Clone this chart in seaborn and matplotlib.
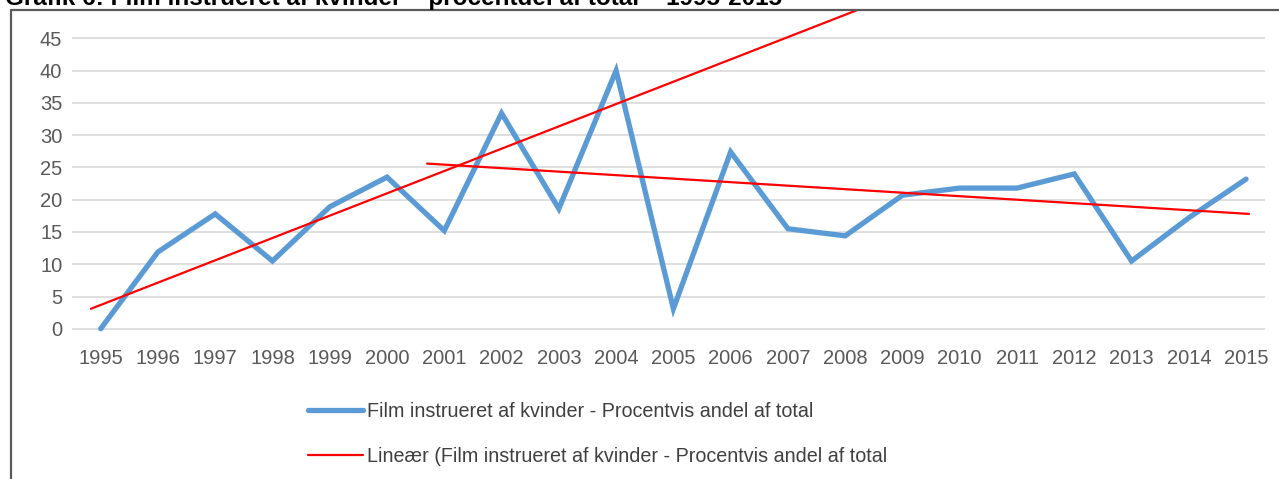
import matplotlib
matplotlib.use('Agg')
import matplotlib.pyplot as plt
from matplotlib.lines import Line2D
import seaborn as sns
import pandas as pd

# Film instrueret af kvinder, procent af total, 1995-2015
years = list(range(1995, 2016))
pct_women = [0.0, 11.9, 17.8, 10.5, 18.9, 23.5, 15.2, 33.4, 18.6, 40.0, 3.1,
             27.4, 15.5, 14.4, 20.7, 21.8, 21.8, 24.0, 10.5, 17.2, 23.2]

# the two red trend lines as drawn in the picture (start / end)
trend_a_years = [1994.83, 2008.3]
trend_a_vals = [3.1, 49.7]
trend_b_years = [2000.7, 2015.05]
trend_b_vals = [25.6, 17.8]

y_ticks = [0, 5, 10, 15, 20, 25, 30, 35, 40, 45]

title = "Grafik 6: Film instrueret af kvinder \u2013 procentdel af total \u2013 1995-2015"
label_data = "Film instrueret af kvinder - Procentvis andel af total"
label_trend = "Line\u00e6r (Film instrueret af kvinder - Procentvis andel af total"

df = pd.DataFrame({'year': years, 'pct': pct_women})
df_a = pd.DataFrame({'year': trend_a_years, 'pct': trend_a_vals})
df_b = pd.DataFrame({'year': trend_b_years, 'pct': trend_b_vals})

sns.set_style('white')
plt.rcParams['font.family'] = ['Liberation Sans', 'DejaVu Sans']

fig = plt.figure(figsize=(12.79, 4.79), dpi=100)
ax = fig.add_axes([72 / 1279, 1 - 332 / 479, (1265 - 72) / 1279, (332 - 10) / 479])

sns.lineplot(data=df, x='year', y='pct', ax=ax, color='#5B9BD5', linewidth=3.8,
             label=label_data, solid_joinstyle='miter', zorder=3)
sns.lineplot(data=df_a, x='year', y='pct', ax=ax, color='#FF0000', linewidth=1.6,
             label=label_trend, zorder=4)
sns.lineplot(data=df_b, x='year', y='pct', ax=ax, color='#FF0000', linewidth=1.6, zorder=4)

ax.set_xlim(1994.5, 2015.33)
ax.set_ylim(-0.5, 49.4)
ax.set_xticks(years)
ax.set_xticklabels([str(y) for y in years])
ax.set_yticks(y_ticks)
ax.yaxis.grid(True, color='#D9D9D9', linewidth=1.2)
ax.xaxis.grid(False)
ax.set_axisbelow(True)
for s in ax.spines.values():
    s.set_visible(False)
ax.tick_params(axis='both', length=0, labelsize=14.5, labelcolor='#595959')
ax.tick_params(axis='x', pad=12)
ax.tick_params(axis='y', pad=7)
ax.set_xlabel('')
ax.set_ylabel('')

ax.get_legend().remove()
handles, labels = ax.get_legend_handles_labels()
leg = fig.legend(handles[:2], labels[:2], loc='upper left',
                 bbox_to_anchor=(300 / 1279, 1 - 394 / 479), frameon=False,
                 fontsize=14.2, handlelength=2.8, handletextpad=0.22,
                 labelspacing=1.32, borderaxespad=0)
for t in leg.get_texts():
    t.set_color('#404040')

# outer frame of the figure box (left and top edge)
fig.add_artist(Line2D([10.5 / 1279, 10.5 / 1279], [0, 1 - 10 / 479],
                      color='#5a5a5a', linewidth=1.6))
fig.add_artist(Line2D([10.5 / 1279, 1], [1 - 10 / 479, 1 - 10 / 479],
                      color='#5a5a5a', linewidth=1.6))

# title, cut off at the top as in the source
fig.text(5 / 1279, 1 - 5 / 479, title, fontsize=17.5, fontweight='bold',
         ha='left', va='baseline', color='black')

fig.savefig('out.png', dpi=100)
